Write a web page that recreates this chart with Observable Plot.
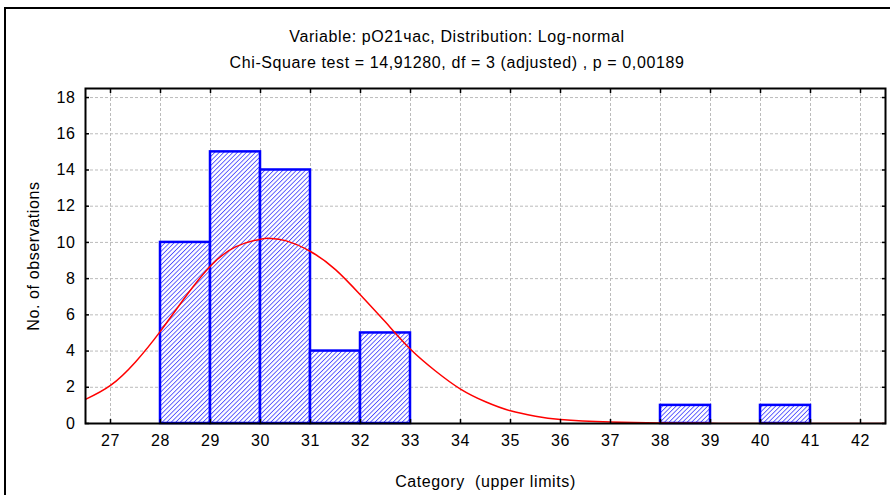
<!DOCTYPE html>
<html><head><meta charset="utf-8">
<script src="https://cdn.jsdelivr.net/npm/d3@7"></script>
<script src="https://cdn.jsdelivr.net/npm/@observablehq/plot@0.6"></script>
<style>
body{margin:0;background:#fff;}
#wrap{position:relative;width:890px;height:495px;overflow:hidden;font-family:"Liberation Sans",Arial,sans-serif;}
#border{position:absolute;left:4px;top:7px;width:1000px;height:1000px;border-left:2px solid #000;border-top:2px solid #000;}
.title{position:absolute;left:0;width:914px;text-align:center;font-size:16px;letter-spacing:0.6px;color:#000;line-height:18px;}
#chart{position:absolute;left:0;top:0;}
</style></head><body>
<div id="wrap"><div id="border"></div>
<div class="title" id="t1" style="top:28px"></div>
<div class="title" id="t2" style="top:54px"></div>
<div id="chart"></div></div>
<script>
const titleLines = ["Variable: pO21час, Distribution: Log-normal", "Chi-Square test = 14,91280, df = 3 (adjusted) , p = 0,00189"];
const xLabel = "Category \u00a0(upper limits)";
const yLabel = "No. of observations";
const binStarts = [28, 29, 30, 31, 32, 38, 40];
const binEnds   = [29, 30, 31, 32, 33, 39, 41];
const counts    = [10, 15, 14, 4, 5, 1, 1];
const curveX = [26.5, 27, 27.5, 28, 28.5, 29, 29.5, 30, 30.2, 30.5, 31, 31.5, 32, 32.5, 33, 33.5, 34, 34.5, 35, 35.5, 36, 37, 38, 39, 40, 42.5];
const curveY = [1.33, 2.1, 3.4, 5.1, 7.0, 8.7, 9.75, 10.18, 10.22, 10.1, 9.5, 8.5, 7.1, 5.6, 4.1, 2.9, 1.9, 1.2, 0.7, 0.4, 0.22, 0.08, 0.025, 0.008, 0.002, 0];
const xTicks = [27, 28, 29, 30, 31, 32, 33, 34, 35, 36, 37, 38, 39, 40, 41, 42];
const yTicks = [0, 2, 4, 6, 8, 10, 12, 14, 16, 18];

document.getElementById("t1").textContent = titleLines[0];
document.getElementById("t2").textContent = titleLines[1];

const bins = binStarts.map((s, i) => ({x1: s, x2: binEnds[i], y: counts[i]}));
const curve = curveX.map((x, i) => ({x, y: curveY[i]}));

const chart = Plot.plot({
  width: 890, height: 495,
  marginLeft: 85, marginRight: 5, marginTop: 88, marginBottom: 72,
  style: {fontFamily: '"Liberation Sans", Arial, sans-serif', fontSize: "16px", letterSpacing: "0.6px", background: "transparent", overflow: "visible"},
  x: {domain: [26.5, 42.5]},
  y: {domain: [0, 18.5]},
  marks: [
    Plot.gridX(xTicks, {stroke: "#bbbbbb", strokeOpacity: 1, strokeDasharray: "3,2"}),
    Plot.gridY(yTicks, {stroke: "#bbbbbb", strokeOpacity: 1, strokeDasharray: "3,2"}),
    Plot.rect(bins, {x1: "x1", x2: "x2", y1: 0, y2: "y", fill: "url(#hatch)", stroke: "#0000ff", strokeWidth: 2.5}),
    Plot.line(curve, {x: "x", y: "y", curve: "natural", stroke: "#ff0000", strokeWidth: 1.5, clip: true}),
    Plot.axisX(xTicks, {anchor: "bottom", tickSize: 0, tickPadding: 11, label: xLabel, labelAnchor: "center", labelArrow: "none", labelOffset: 63, fontSize: 16}),
    Plot.axisX(xTicks, {anchor: "bottom", tickSize: -4, text: null, label: null, strokeWidth: 1.5}),
    Plot.axisX(xTicks, {anchor: "top", tickSize: -4, text: null, label: null, strokeWidth: 1.5}),
    Plot.axisY(yTicks, {anchor: "left", tickSize: 0, tickPadding: 10, label: yLabel, labelAnchor: "center", labelArrow: "none", labelOffset: 58, fontSize: 16}),
    Plot.axisY(yTicks, {anchor: "left", tickSize: -4, text: null, label: null, strokeWidth: 1.5}),
    Plot.axisY(yTicks, {anchor: "right", tickSize: -4, text: null, label: null, strokeWidth: 1.5}),
    Plot.frame({stroke: "#000", strokeWidth: 2})
  ]
});

const svg = d3.select(chart);
const defs = svg.insert("defs", ":first-child");
const P = 3.2;
const pat = defs.append("pattern").attr("id", "hatch").attr("patternUnits", "userSpaceOnUse")
  .attr("width", P).attr("height", P).attr("patternTransform", "rotate(45)");
pat.append("rect").attr("width", P).attr("height", P).attr("fill", "#ffffff");
pat.append("line").attr("x1", 0).attr("y1", 0).attr("x2", 0).attr("y2", P).attr("stroke", "#4a4aff").attr("stroke-width", 1.7);
document.getElementById("chart").appendChild(chart);
</script>
</body></html>
